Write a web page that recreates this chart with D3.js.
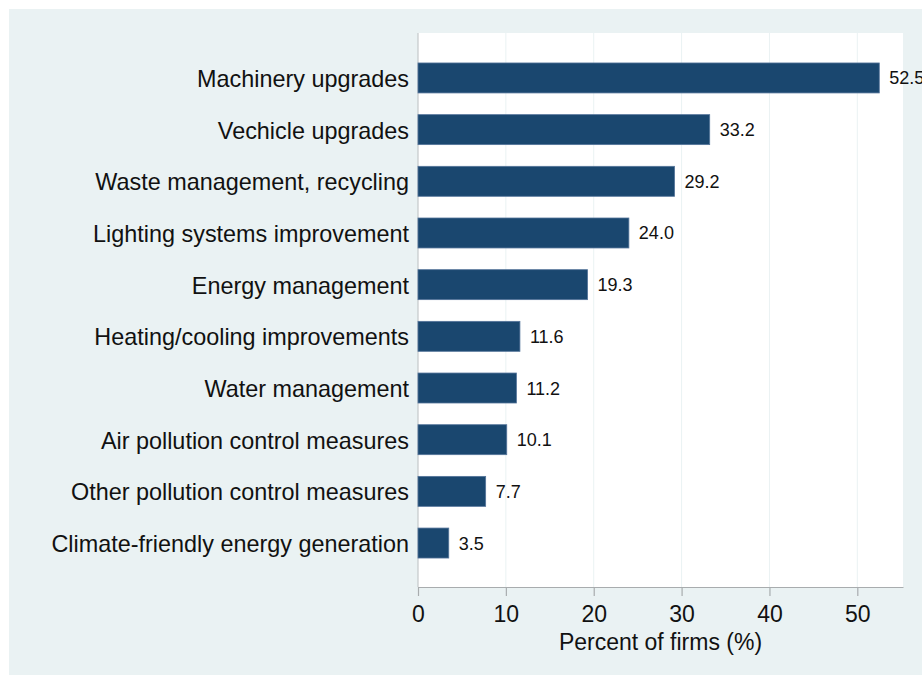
<!DOCTYPE html>
<html>
<head>
<meta charset="utf-8">
<script src="https://cdn.jsdelivr.net/npm/d3@7"></script>
<style>
  body { margin: 0; background: #fff; }
  text { font-family: "Liberation Sans", Arial, sans-serif; fill: #111; }
</style>
</head>
<body>
<div id="chart"></div>
<script>
// data
var categories = [
  "Machinery upgrades",
  "Vechicle upgrades",
  "Waste management, recycling",
  "Lighting systems improvement",
  "Energy management",
  "Heating/cooling improvements",
  "Water management",
  "Air pollution control measures",
  "Other pollution control measures",
  "Climate-friendly energy generation"
];
var values = [52.5, 33.2, 29.2, 24.0, 19.3, 11.6, 11.2, 10.1, 7.7, 3.5];
var xTicks = [0, 10, 20, 30, 40, 50];
var xTitle = "Percent of firms (%)";

var W = 922, H = 675;
var plot = { left: 418, right: 903, top: 33, bottom: 587 };
var barColor = "#1a476f";
var bgColor = "#eaf2f3";

var svg = d3.select("#chart").append("svg")
  .attr("width", W)
  .attr("height", H);

// outer panel
svg.append("rect")
  .attr("x", 9).attr("y", 9)
  .attr("width", W - 9).attr("height", H - 9)
  .attr("fill", bgColor);

// plot region
svg.append("rect")
  .attr("x", plot.left).attr("y", plot.top)
  .attr("width", plot.right - plot.left)
  .attr("height", plot.bottom - plot.top)
  .attr("fill", "#fff");

var x = d3.scaleLinear()
  .domain([0, 55.2])
  .range([plot.left, plot.right]);

var y = d3.scaleBand()
  .domain(categories)
  .range([plot.top, plot.bottom + 1])
  .paddingInner(0.42)
  .paddingOuter(0.58);

// grid lines
svg.append("g").selectAll("line")
  .data(xTicks.filter(function (d) { return d > 0; }))
  .enter().append("line")
  .attr("x1", function (d) { return x(d); })
  .attr("x2", function (d) { return x(d); })
  .attr("y1", plot.top)
  .attr("y2", plot.bottom)
  .attr("stroke", bgColor)
  .attr("stroke-width", 1);

// left axis line
svg.append("line")
  .attr("x1", plot.left).attr("x2", plot.left)
  .attr("y1", plot.top).attr("y2", plot.bottom)
  .attr("stroke", "#c4c8ca")
  .attr("stroke-width", 1.2);

// bars
svg.append("g").selectAll("rect")
  .data(values)
  .enter().append("rect")
  .attr("x", x(0))
  .attr("y", function (d, i) { return y(categories[i]); })
  .attr("width", function (d) { return x(d) - x(0); })
  .attr("height", y.bandwidth())
  .attr("fill", barColor)
  .attr("stroke", "#54749a")
  .attr("stroke-width", 0.8);

// value labels
svg.append("g").selectAll("text")
  .data(values)
  .enter().append("text")
  .attr("x", function (d) { return x(d) + 10; })
  .attr("y", function (d, i) { return y(categories[i]) + y.bandwidth() / 2 + 6.5; })
  .attr("font-size", "18px")
  .text(function (d) { return d.toFixed(1); });

// category labels
svg.append("g").selectAll("text")
  .data(categories)
  .enter().append("text")
  .attr("x", 409)
  .attr("y", function (d) { return y(d) + y.bandwidth() / 2 + 9; })
  .attr("text-anchor", "end")
  .attr("font-size", "23.4px")
  .text(function (d) { return d; });

// x axis
var xAxis = svg.append("g")
  .attr("transform", "translate(0," + plot.bottom + ")")
  .call(d3.axisBottom(x).tickValues(xTicks).tickSize(9).tickSizeOuter(0)
    .tickPadding(10).tickFormat(d3.format("d")));
xAxis.select(".domain").attr("stroke", "#a8acae").attr("stroke-width", 1.2);
xAxis.selectAll(".tick line").attr("stroke", "#a8acae").attr("stroke-width", 1.2);
xAxis.selectAll(".tick text")
  .attr("font-size", "23px")
  .attr("font-family", "Liberation Sans, Arial, sans-serif")
  .attr("fill", "#111");

svg.append("text")
  .attr("x", (plot.left + plot.right) / 2)
  .attr("y", 650)
  .attr("text-anchor", "middle")
  .attr("font-size", "23px")
  .text(xTitle);
</script>
</body>
</html>
